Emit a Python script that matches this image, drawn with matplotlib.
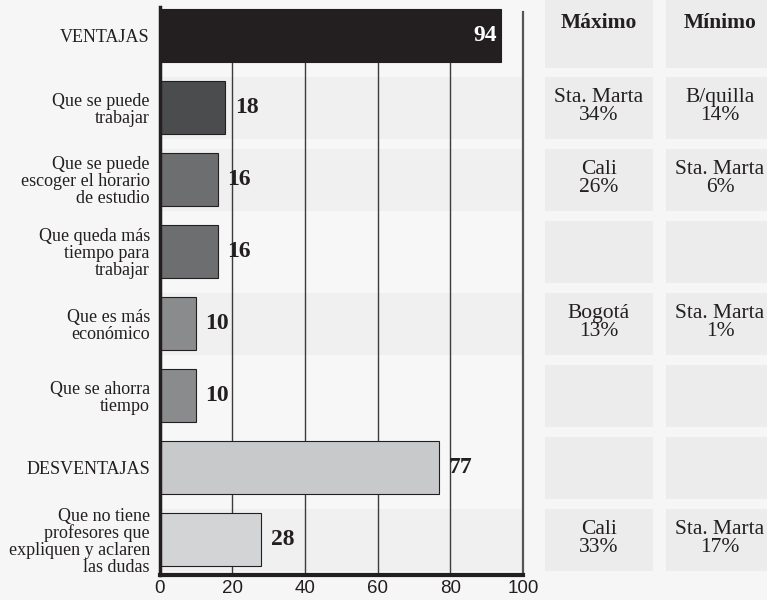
import numpy as np
import matplotlib.pyplot as plt
from matplotlib.patches import Rectangle

# data
categories = ['VENTAJAS', 'Que se puede\ntrabajar', 'Que se puede\nescoger el horario\nde estudio',
              'Que queda más\ntiempo para\ntrabajar', 'Que es más\neconómico', 'Que se ahorra\ntiempo',
              'DESVENTAJAS', 'Que no tiene\nprofesores que\nexpliquen y aclaren\nlas dudas']
values = [94, 18, 16, 16, 10, 10, 77, 28]
maximo = ['', 'Sta. Marta\n34%', 'Cali\n26%', '', 'Bogotá\n13%', '', '', 'Cali\n33%']
minimo = ['', 'B/quilla\n14%', 'Sta. Marta\n6%', '', 'Sta. Marta\n1%', '', '', 'Sta. Marta\n17%']
xticks = [0, 20, 40, 60, 80, 100]

bar_colors = ['#231f20', '#4b4c4e', '#6d6e70', '#6d6e70', '#8a8b8d', '#8a8b8d', '#c8c9cb', '#d3d4d6']
bg = '#f6f6f6'
cell = '#ececec'
serif = 'Liberation Serif'

W, H = 767, 600
fig = plt.figure(figsize=(W / 100, H / 100), dpi=100, facecolor=bg)
ax = fig.add_axes([159.5 / W, 1 - 575 / H, (523 - 159.5) / W, (575 - 7) / H])
ax.set_facecolor('#f7f7f7')

y = np.arange(len(values))
ax.set_ylim(7.486, -0.395)
ax.set_xlim(0, 100)

# light bands behind rows that have table data
for i in y:
    if maximo[i]:
        ax.axhspan(i - 0.43, i + 0.43, color='#f0f0f1', zorder=0, lw=0)

for gx in xticks[1:-1]:
    ax.plot([gx, gx], [7.486, 0], color='#3c3c3c', lw=1.0, zorder=1)

ax.barh(y, values, height=0.735, color=bar_colors, edgecolor='#231f20', lw=0.8, zorder=2)

for i, v in enumerate(values):
    if i == 0:
        ax.annotate(str(v), (v, i), xytext=(-3, 0), textcoords='offset points', ha='right', va='center',
                    color='white', fontsize=17, fontweight='bold', family=serif, zorder=3)
    else:
        ax.annotate(str(v), (v, i), xytext=(7, 0), textcoords='offset points', ha='left', va='center',
                    color='#231f20', fontsize=17, fontweight='bold', family=serif, zorder=3)

ax.set_yticks(y)
ax.set_yticklabels(categories, family=serif, fontsize=13, color='#231f20', linespacing=1.0)
ax.tick_params(axis='y', length=0, pad=7)
ax.set_xticks(xticks)
ax.set_xticklabels([str(t) for t in xticks], family='Liberation Sans', fontsize=13.5, color='#231f20')
ax.tick_params(axis='x', length=0, pad=3.5)

ax.spines['top'].set_visible(False)
ax.spines['left'].set_linewidth(2.5)
ax.spines['left'].set_color('#231f20')
ax.spines['bottom'].set_linewidth(3)
ax.spines['bottom'].set_color('#231f20')
ax.spines['right'].set_linewidth(1.6)
ax.spines['right'].set_color('#555555')
ax.spines['right'].set_bounds(7.486, -0.33)

# side table with max / min cities
tx = fig.add_axes([545 / W, 1 - 575 / H, (W - 545) / W, (575 - 7) / H], sharey=ax)
tx.set_xlim(545, W)
tx.axis('off')
cols = [(545, 653, 599, 'Máximo', maximo), (666, 775, 720, 'Mínimo', minimo)]
for x0, x1, xc, head, vals in cols:
    tx.add_patch(Rectangle((x0, -0.49), x1 - x0, 0.94, color=cell, lw=0, clip_on=False))
    tx.text(xc, -0.17, head, ha='center', va='center', family=serif, fontweight='bold',
            fontsize=15.5, color='#231f20')
    for i in y[1:]:
        tx.add_patch(Rectangle((x0, i - 0.43), x1 - x0, 0.86, color=cell, lw=0, clip_on=False))
        if vals[i]:
            tx.text(xc, i - 0.02, vals[i], ha='center', va='center', family=serif, fontsize=15.5,
                    color='#231f20', linespacing=0.92)

fig.savefig('out.png', dpi=100, facecolor=bg)
